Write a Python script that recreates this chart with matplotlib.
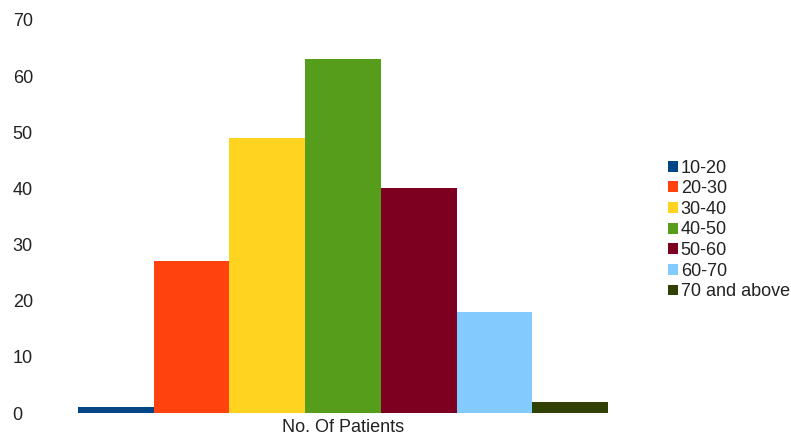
import matplotlib
matplotlib.use("Agg")
import matplotlib.pyplot as plt

categories = ["10-20", "20-30", "30-40", "40-50", "50-60", "60-70", "70 and above"]
values = [1, 27, 49, 63, 40, 18, 2]
colors = ["#004586", "#ff420e", "#ffd320", "#579d1c", "#7e0021", "#83caff", "#314004"]
yticks = [0, 10, 20, 30, 40, 50, 60, 70]
xlabel = "No. Of Patients"

plt.rcParams['font.family'] = ['Liberation Sans', 'DejaVu Sans']
FS = 13

fig = plt.figure(figsize=(7.91, 4.41), dpi=100)
ax = fig.add_axes([78/791, 28/441, 530/791, 393/441])

n = len(categories)
for i, (c, v, col) in enumerate(zip(categories, values, colors)):
    ax.bar(i, v, width=1.0, color=col, label=c, align='edge')

ax.set_xlim(0, n)
ax.set_ylim(0, 70)
ax.set_yticks(yticks)
ax.set_yticklabels([str(t) for t in yticks], ha='left', fontsize=FS, color='#222222')
ax.tick_params(axis='y', length=0, pad=47)
ax.set_xticks([])
for s in ax.spines.values():
    s.set_visible(False)
ax.set_xlabel(xlabel, fontsize=FS, color='#222222', labelpad=4)

leg = ax.legend(loc='center left', bbox_to_anchor=(668/791, 1 - 230/441),
                bbox_transform=fig.transFigure, frameon=False, fontsize=FS,
                handlelength=0.55, handleheight=0.55, handletextpad=0.15,
                labelspacing=0.2, borderaxespad=0, borderpad=0)
for t in leg.get_texts():
    t.set_color('#222222')

fig.savefig("out.png", dpi=100)
